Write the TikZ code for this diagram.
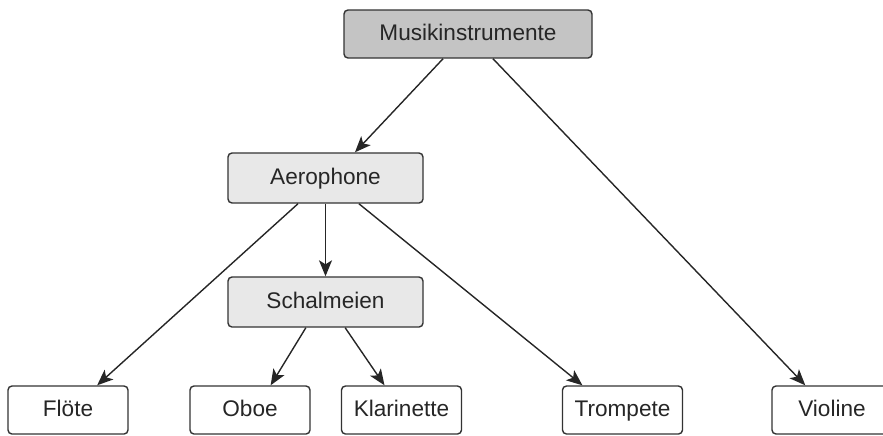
\documentclass[tikz,border=0pt]{standalone}
\usepackage{fontspec}
\setmainfont{Liberation Sans}
\usetikzlibrary{arrows.meta,calc}

\begin{document}
\begin{tikzpicture}[
		x=0.5pt, y=-0.5pt,
		every node/.style={
				font=\fontsize{11.3}{13}\selectfont,
				text=black!85,
				draw=black!80,
				line width=0.7pt,
				rounded corners=2pt,
				inner sep=0pt,
				text height=8.2pt,
				text depth=2.2pt
			},
		wurzel/.style={fill=black!23, minimum width=124pt, minimum height=24pt},
		gruppe/.style={fill=black!9, minimum width=97.5pt, minimum height=25pt},
		blatt/.style={fill=white, minimum width=60pt, minimum height=24pt},
		pfeil/.style={-{Stealth[length=8pt,width=6.5pt,inset=2pt]}, line width=0.7pt, black!85}
	]
	\useasboundingbox (0,0) rectangle (883,435);

	\node[wurzel] (musik) at (468,34) {Musikinstrumente};
	\node[gruppe] (aero) at (325.5,178) {Aerophone};
	\node[gruppe] (schalm) at (325.5,302) {Schalmeien};
	\node[blatt] (floete) at (68,410) {Flöte};
	\node[blatt] (oboe) at (250,410) {Oboe};
	\node[blatt] (klar) at (401.5,410) {Klarinette};
	\node[blatt] (tromp) at (622.5,410) {Trompete};
	\node[blatt] (violine) at (832,410) {Violine};

	\draw[pfeil] ($(musik.south west)!0.4!(musik.south east)$) -- ($(aero.north west)!0.65!(aero.north east)$);
	\draw[pfeil] ($(musik.south west)!0.6!(musik.south east)$) -- ($(violine.north west)!0.28!(violine.north east)$);
	\draw[pfeil] ($(aero.south west)!0.36!(aero.south east)$) -- ($(floete.north west)!0.74!(floete.north east)$);
	\draw[pfeil] (aero.south) -- (schalm.north);
	\draw[pfeil] ($(aero.south west)!0.67!(aero.south east)$) -- ($(tromp.north west)!0.17!(tromp.north east)$);
	\draw[pfeil] ($(schalm.south west)!0.4!(schalm.south east)$) -- ($(oboe.north west)!0.67!(oboe.north east)$);
	\draw[pfeil] ($(schalm.south west)!0.6!(schalm.south east)$) -- ($(klar.north west)!0.36!(klar.north east)$);
\end{tikzpicture}
\end{document}
